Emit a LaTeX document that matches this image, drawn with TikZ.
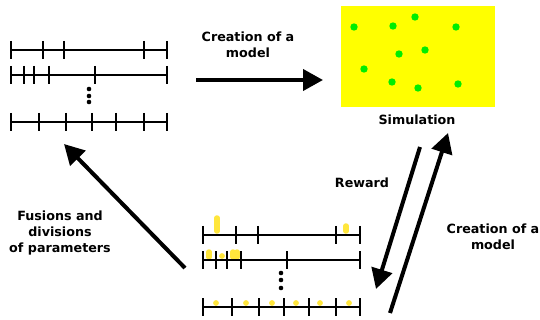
\documentclass[tikz,border=0pt]{standalone}
\usepackage{fontspec}
\setmainfont{DejaVu Sans}
\usetikzlibrary{arrows.meta}
\definecolor{simyellow}{RGB}{255,255,0}
\definecolor{dotgreen}{RGB}{0,238,0}
\definecolor{baryellow}{RGB}{255,230,60}
\tikzset{
  axis/.style={line width=1.8pt},
  tick/.style={line width=1.5pt},
  bigarrow/.style={line width=4pt,-{Triangle[length=20pt,width=21pt]}},
  lbl/.style={font=\bfseries\fontsize{12.7}{16.3}\selectfont,align=center,inner sep=0pt},
  ybar/.style={line width=5.5pt,line cap=round,baryellow},
  ydot/.style={fill=baryellow},
  gdot/.style={fill=dotgreen},
  vdot/.style={fill=black}
}
\newcommand{\tickline}[3]{%
  \draw[axis] (11,#1) -- (167,#1);
  \foreach \t in {#2} \draw[tick] (\t,#1-#3) -- (\t,#1+#3);
}
\newcommand{\btickline}[3]{%
  \draw[axis] (203,#1) -- (360,#1);
  \foreach \t in {#2} \draw[tick] (\t,#1-#3) -- (\t,#1+#3);
}
\begin{document}
\begin{tikzpicture}[x=1pt,y=-1pt]
\useasboundingbox (0,0) rectangle (540,320);
% top-left parameter lines
\tickline{50}{11,43,64,144,167}{9}
\tickline{75}{11,24,34,49,95,167}{9}
\tickline{122}{11,39,66,92,116,144,167}{9}
\foreach \yy in {89,96,102} \fill[vdot] (89,\yy) circle (2.3);
% bottom parameter lines with yellow markers
\draw[ybar] (217,218) -- (217,231);
\draw[ybar] (346,226) -- (346,231);
\draw[ybar] (209,252) -- (209,257);
\fill[ydot] (222,256) circle (2.9);
\draw[ybar] (233,252) -- (233,257);
\draw[ybar] (237,252) -- (237,257);
\foreach \xx in {216,246,272,296,320,349} \fill[ydot] (\xx,303) circle (2.9);
\btickline{235}{203,236,258,336,360}{9}
\btickline{260}{203,216,227,241,287,360}{9}
\btickline{307}{203,232,259,284,309,336,360}{9}
\foreach \yy in {273,280,288} \fill[vdot] (281,\yy) circle (2.3);
% simulation box
\node[fill=simyellow,minimum width=154pt,minimum height=101pt,inner sep=0pt] (sim) at (418,56.5) {};
\foreach \p in {(354,27),(393,26),(415,17),(456,27),(399,54),(425,50),(364,69),(392,82),(418,88),(458,84)}
  \fill[gdot] \p circle (3.7);
\node[lbl] (simlbl) at (417,120) {Simulation};
% arrows
\coordinate (a1s) at (196,80); \coordinate (a1e) at (323,80);
\draw[bigarrow] (a1s) -- (a1e);
\node[lbl] (l1) at (248,45) {Creation of a\\model};
\coordinate (a2s) at (185,268); \coordinate (a2e) at (64,144);
\draw[bigarrow] (a2s) -- (a2e);
\node[lbl] (l2) at (60,233) {Fusions and\\divisions\\of parameters};
\coordinate (a3s) at (420,147); \coordinate (a3e) at (376,289);
\draw[bigarrow] (a3s) -- (a3e);
\node[lbl] (l3) at (362,183) {Reward};
\coordinate (a4s) at (390,313); \coordinate (a4e) at (448,133);
\draw[bigarrow] (a4s) -- (a4e);
\node[lbl] (l4) at (493,237) {Creation of a\\model};
\end{tikzpicture}
\end{document}
